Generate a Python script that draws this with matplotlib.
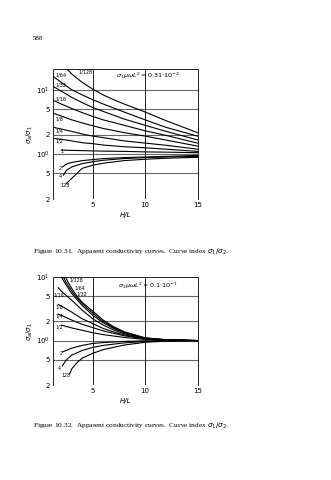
import matplotlib
matplotlib.use("Agg")
import matplotlib.pyplot as plt

# ---------------- data: top chart (sigma1*mu*omega*L^2 = 0.31e-2) ----------------
top_labels = ["1/128", "1/64", "1/32", "1/16", "1/8", "1/4", "1/2", "1", "2", "4", "128"]
top_x = [
    [2.5, 3, 4, 5, 6, 7, 8, 10, 12, 15],
    [1.25, 2, 3, 4, 5, 6, 8, 10, 12, 15],
    [1.25, 2, 3, 4, 5, 6, 8, 10, 12, 15],
    [1.25, 2, 3, 4, 5, 6, 8, 10, 12, 15],
    [1.25, 2, 3, 4, 5, 6, 8, 10, 12, 15],
    [1.25, 2, 3, 4, 5, 6, 8, 10, 12, 15],
    [1.25, 2, 3, 4, 5, 6, 8, 10, 12, 15],
    [2.0, 3, 4, 5, 6, 8, 10, 12, 15],
    [2.1, 2.5, 3, 4, 5, 6, 8, 10, 12, 15],
    [2.2, 2.5, 3, 4, 5, 6, 8, 10, 12, 15],
    [2.5, 3, 3.5, 4, 5, 6, 8, 10, 12, 15],
]
top_y = [
    [21.5, 17.5, 13.0, 10.2, 8.3, 7.0, 6.0, 4.5, 3.3, 2.15],
    [16.0, 13.0, 10.0, 8.3, 7.0, 6.0, 4.5, 3.4, 2.6, 1.9],
    [11.2, 9.5, 7.6, 6.3, 5.3, 4.6, 3.5, 2.8, 2.25, 1.66],
    [6.8, 6.0, 5.1, 4.4, 3.85, 3.4, 2.8, 2.3, 1.95, 1.48],
    [4.3, 3.9, 3.4, 3.05, 2.75, 2.5, 2.15, 1.9, 1.65, 1.33],
    [2.6, 2.45, 2.25, 2.05, 1.9, 1.8, 1.6, 1.48, 1.37, 1.19],
    [1.75, 1.7, 1.6, 1.5, 1.45, 1.38, 1.3, 1.25, 1.19, 1.1],
    [1.15, 1.14, 1.13, 1.12, 1.11, 1.1, 1.08, 1.07, 1.05],
    [0.63, 0.7, 0.74, 0.79, 0.82, 0.85, 0.88, 0.9, 0.92, 0.95],
    [0.47, 0.56, 0.63, 0.71, 0.76, 0.8, 0.85, 0.88, 0.9, 0.92],
    [0.35, 0.42, 0.5, 0.6, 0.67, 0.72, 0.79, 0.83, 0.86, 0.89],
]
top_label_pos = [(3.6, 19.0), (1.45, 17.0), (1.45, 11.8), (1.45, 7.1), (1.45, 3.5),
                 (1.45, 2.3), (1.45, 1.62), (1.9, 1.1), (1.75, 0.6), (1.8, 0.44), (1.95, 0.32)]

# ---------------- data: bottom chart (sigma1*mu*omega*L^2 = 0.1e-1) ----------------
bot_labels = ["1/128", "1/64", "1/32", "1/16", "1/8", "1/4", "1/2", "2", "4", "128"]
bot_x = [
    [2.4, 2.7, 3, 3.5, 4, 5, 6, 7, 8, 10, 12, 15],
    [2.2, 2.5, 3, 3.5, 4, 5, 6, 7, 8, 10, 12, 15],
    [2.0, 2.5, 3, 3.5, 4, 5, 6, 7, 8, 10, 12, 15],
    [1.7, 2, 3, 4, 5, 6, 7, 8, 10, 12, 15],
    [1.7, 2, 3, 4, 5, 6, 7, 8, 10, 12, 15],
    [1.7, 2, 3, 4, 5, 6, 8, 10, 12, 15],
    [2.0, 3, 4, 5, 6, 8, 10, 12, 15],
    [2.1, 3, 4, 5, 6, 8, 10, 15],
    [2.1, 2.5, 3, 4, 5, 6, 8, 10, 15],
    [2.8, 3, 3.5, 4, 5, 6, 8, 10, 12, 15],
]
bot_y = [
    [10.0, 8.0, 6.6, 5.0, 4.0, 2.9, 2.1, 1.65, 1.38, 1.1, 1.03, 1.0],
    [10.0, 8.0, 6.0, 4.7, 3.8, 2.7, 2.0, 1.6, 1.35, 1.1, 1.03, 1.0],
    [10.0, 7.3, 5.5, 4.4, 3.55, 2.5, 1.9, 1.55, 1.32, 1.09, 1.03, 1.0],
    [6.8, 6.0, 4.3, 3.0, 2.2, 1.75, 1.47, 1.28, 1.08, 1.02, 1.0],
    [3.7, 3.5, 2.8, 2.2, 1.85, 1.55, 1.37, 1.23, 1.07, 1.02, 1.0],
    [2.6, 2.5, 2.1, 1.8, 1.6, 1.42, 1.19, 1.06, 1.01, 1.0],
    [1.75, 1.58, 1.45, 1.33, 1.24, 1.12, 1.04, 1.01, 1.0],
    [0.66, 0.76, 0.84, 0.9, 0.93, 0.97, 0.99, 1.0],
    [0.4, 0.5, 0.59, 0.7, 0.78, 0.84, 0.92, 0.97, 1.0],
    [0.3, 0.36, 0.45, 0.53, 0.63, 0.72, 0.85, 0.94, 0.98, 1.0],
]
bot_label_pos = [(2.75, 9.1), (3.3, 6.8), (3.4, 5.4), (1.22, 5.3), (1.4, 3.4),
                 (1.4, 2.45), (1.4, 1.62), (1.8, 0.63), (1.7, 0.37), (2.0, 0.28)]

y_ticks = [0.2, 0.5, 1, 2, 5, 10]
y_tick_labels = ["2", "5", r"10$^0$", "2", "5", r"10$^1$"]
x_ticks = [5, 10, 15]
x_tick_labels = ["5", "10", "15"]

W, H = 331, 480
fig = plt.figure(figsize=(W / 100, H / 100), dpi=100)
fig.patch.set_facecolor("white")

def px_rect(left, top, right, bottom):
    return [left / W, 1 - bottom / H, (right - left) / W, (bottom - top) / H]

def setup(ax, ytop, grid_y):
    ax.set_yscale("log")
    ax.set_xlim(1.18, 15)
    ax.set_ylim(0.2, ytop)
    for s in ax.spines.values():
        s.set_linewidth(0.7)
        s.set_color("#222222")
    ax.spines["bottom"].set_visible(False)
    for g in grid_y:
        ax.axhline(g, color="#666666", lw=0.8, zorder=1)
    for g in [5, 10]:
        ax.axvline(g, color="#222222", lw=0.7, zorder=1)
    ax.set_yticks(y_ticks)
    ax.set_yticklabels(y_tick_labels)
    ax.yaxis.set_minor_locator(matplotlib.ticker.NullLocator())
    ax.set_xticks(x_ticks)
    ax.set_xticklabels(x_tick_labels)
    ax.tick_params(length=0, labelsize=5, pad=2)

# top chart
ax1 = fig.add_axes(px_rect(52.7, 69, 197.5, 199))
setup(ax1, 21, [0.5, 1, 2, 5, 10])
for xs, ys in zip(top_x, top_y):
    ax1.plot(xs, ys, color="black", lw=0.8, zorder=3, clip_on=True)
for lab, (lx, ly) in zip(top_labels, top_label_pos):
    ax1.text(lx, ly, lab, fontsize=3.6, ha="left", va="center", zorder=4)
ax1.text(0.66, 0.95, r"$\sigma_1\mu\omega L^2 = 0.31{\cdot}10^{-2}$", transform=ax1.transAxes,
         fontsize=4.6, ha="center", va="center")
ax1.set_ylabel(r"$\sigma_a/\sigma_1$", fontsize=5, labelpad=1)
ax1.set_xlabel("H/L", fontsize=5, style="italic", labelpad=3)

# bottom chart
ax2 = fig.add_axes(px_rect(52.7, 277, 197.5, 385))
setup(ax2, 10, [0.5, 1, 2, 5])
for xs, ys in zip(bot_x, bot_y):
    ax2.plot(xs, ys, color="black", lw=0.8, zorder=3, clip_on=True)
for lab, (lx, ly) in zip(bot_labels, bot_label_pos):
    ax2.text(lx, ly, lab, fontsize=3.4, ha="left", va="center", zorder=4)
ax2.text(0.66, 0.92, r"$\sigma_1\mu\omega L^2 = 0.1{\cdot}10^{-1}$", transform=ax2.transAxes,
         fontsize=4.6, ha="center", va="center")
ax2.set_ylabel(r"$\sigma_a/\sigma_1$", fontsize=5, labelpad=1)
ax2.set_xlabel("H/L", fontsize=5, style="italic", labelpad=3)

# page texts
fig.text(33 / W, 1 - 39 / H, "588", fontsize=5, family="Liberation Serif", va="center")
fig.text(33 / W, 1 - 252 / H,
         r"Figure 10.31.  Apparent conductivity curves.  Curve index $\sigma_1/\sigma_2$.",
         fontsize=5.3, family="Liberation Serif", va="center")
fig.text(33 / W, 1 - 426 / H,
         r"Figure 10.32.  Apparent conductivity curves.  Curve index $\sigma_1/\sigma_2$.",
         fontsize=5.3, family="Liberation Serif", va="center")

fig.savefig("out.png", dpi=100)
